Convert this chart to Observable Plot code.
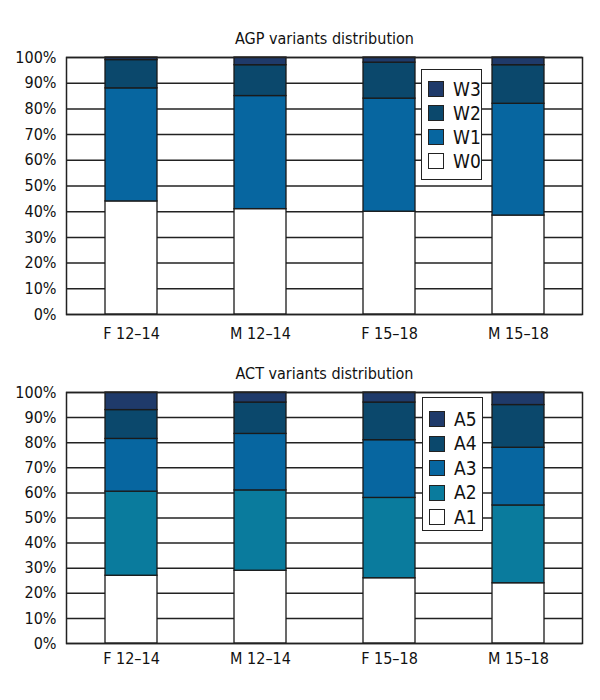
<!DOCTYPE html>
<html>
<head>
<meta charset="utf-8">
<script src="https://cdn.jsdelivr.net/npm/d3@7"></script>
<script src="https://cdn.jsdelivr.net/npm/@observablehq/plot@0.6"></script>
<style>
  html, body { margin: 0; padding: 0; background: #fff; }
  body { width: 600px; height: 700px; position: relative; overflow: hidden;
         font-family: "Liberation Sans Narrow", "DejaVu Sans Condensed", "DejaVu Sans", sans-serif; font-stretch: condensed; }
  .chart { position: absolute; left: 0; }
  .legend { position: absolute; background: #fff; border: 1.5px solid #222; box-sizing: border-box;
            padding: 6px 0 0 6px; color: #111; }
  .legend .row { display: flex; align-items: center; }
  .legend .sw { width: 16px; height: 16px; border: 1px solid #222; box-sizing: border-box; margin-right: 9px; }
  .legend .lab { font-size: 19px; line-height: 19px; }
</style>
</head>
<body>
<div id="c1" class="chart" style="top:0"></div>
<div id="c2" class="chart" style="top:345px"></div>
<script>
// ---- Data ----
const groups = ["F 12–14", "M 12–14", "F 15–18", "M 15–18"];
const yTicks = [0, 10, 20, 30, 40, 50, 60, 70, 80, 90, 100];

const agpTitle = "AGP variants distribution";
const agpVariants = ["W0", "W1", "W2", "W3"];
const agpW0 = [44, 41, 40, 38.5];
const agpW1 = [44, 44, 44, 43.5];
const agpW2 = [11, 12, 14, 15];
const agpW3 = [1, 3, 2, 3];
const agpColors = ["#ffffff", "#0766a0", "#0b486c", "#1f3a6a"];

const actTitle = "ACT variants distribution";
const actVariants = ["A1", "A2", "A3", "A4", "A5"];
const actA1 = [27, 29, 26, 24];
const actA2 = [33.5, 32, 32, 31];
const actA3 = [21, 22.5, 23, 23];
const actA4 = [11.5, 12.5, 15, 17];
const actA5 = [7, 4, 4, 5];
const actColors = ["#ffffff", "#0a7b9d", "#0766a0", "#0b486c", "#1f3a6a"];

// ---- Build ----
function longForm(variants, series) {
  const rows = [];
  variants.forEach((v, i) => {
    groups.forEach((g, j) => rows.push({group: g, variant: v, value: series[i][j]}));
  });
  return rows;
}

const font = '"Liberation Sans Narrow", "DejaVu Sans Condensed", "DejaVu Sans", sans-serif';

function makeChart({title, variants, series, colors, height, marginTop, marginBottom, tickPadX}) {
  const data = longForm(variants, series);
  return Plot.plot({
    width: 600,
    height,
    marginLeft: 66,
    marginRight: 18,
    marginTop,
    marginBottom,
    style: {fontFamily: font, fontStretch: "condensed", fontSize: "16px", color: "#111", background: "#fff"},
    x: {domain: groups, paddingInner: 0.6, paddingOuter: 0.3, label: null, tickSize: 0, tickPadding: tickPadX},
    y: {domain: [0, 100], ticks: yTicks, tickFormat: d => d + "%", label: null, tickSize: 0, tickPadding: 10},
    color: {domain: variants, range: colors},
    marks: [
      Plot.ruleY(yTicks, {stroke: "#222", strokeWidth: 1.5}),
      Plot.barY(data, {x: "group", y: "value", fill: "variant", stroke: "#1a1a1a", strokeWidth: 1.3, order: variants}),
      Plot.frame({stroke: "#222", strokeWidth: 1.5}),
      Plot.text([title], {frameAnchor: "top", dy: -19, lineAnchor: "middle", fontSize: 16, fill: "#111"})
    ]
  });
}

function makeLegend(chart, variants, box) {
  const color = chart.scale("color");
  const div = document.createElement("div");
  div.className = "legend";
  Object.assign(div.style, {left: box.x + "px", top: box.y + "px", width: box.w + "px", height: box.h + "px", paddingTop: box.pt + "px"});
  [...variants].reverse().forEach(v => {
    const row = document.createElement("div");
    row.className = "row";
    row.style.height = box.rh + "px";
    const sw = document.createElement("div");
    sw.className = "sw";
    sw.style.background = color.apply(v);
    const lab = document.createElement("span");
    lab.className = "lab";
    lab.textContent = v;
    row.append(sw, lab);
    div.append(row);
  });
  return div;
}

const c1 = makeChart({title: agpTitle, variants: agpVariants, series: [agpW0, agpW1, agpW2, agpW3],
  colors: agpColors, height: 345, marginTop: 57, marginBottom: 31, tickPadX: 13});
document.getElementById("c1").append(c1);
document.body.append(makeLegend(c1, agpVariants, {x: 421, y: 69, w: 61, h: 111, pt: 7, rh: 24}));

const c2 = makeChart({title: actTitle, variants: actVariants, series: [actA1, actA2, actA3, actA4, actA5],
  colors: actColors, height: 355, marginTop: 47, marginBottom: 57, tickPadX: 9});
document.getElementById("c2").append(c2);
document.body.append(makeLegend(c2, actVariants, {x: 422, y: 397, w: 61, h: 134, pt: 9, rh: 24.5}));
</script>
</body>
</html>
